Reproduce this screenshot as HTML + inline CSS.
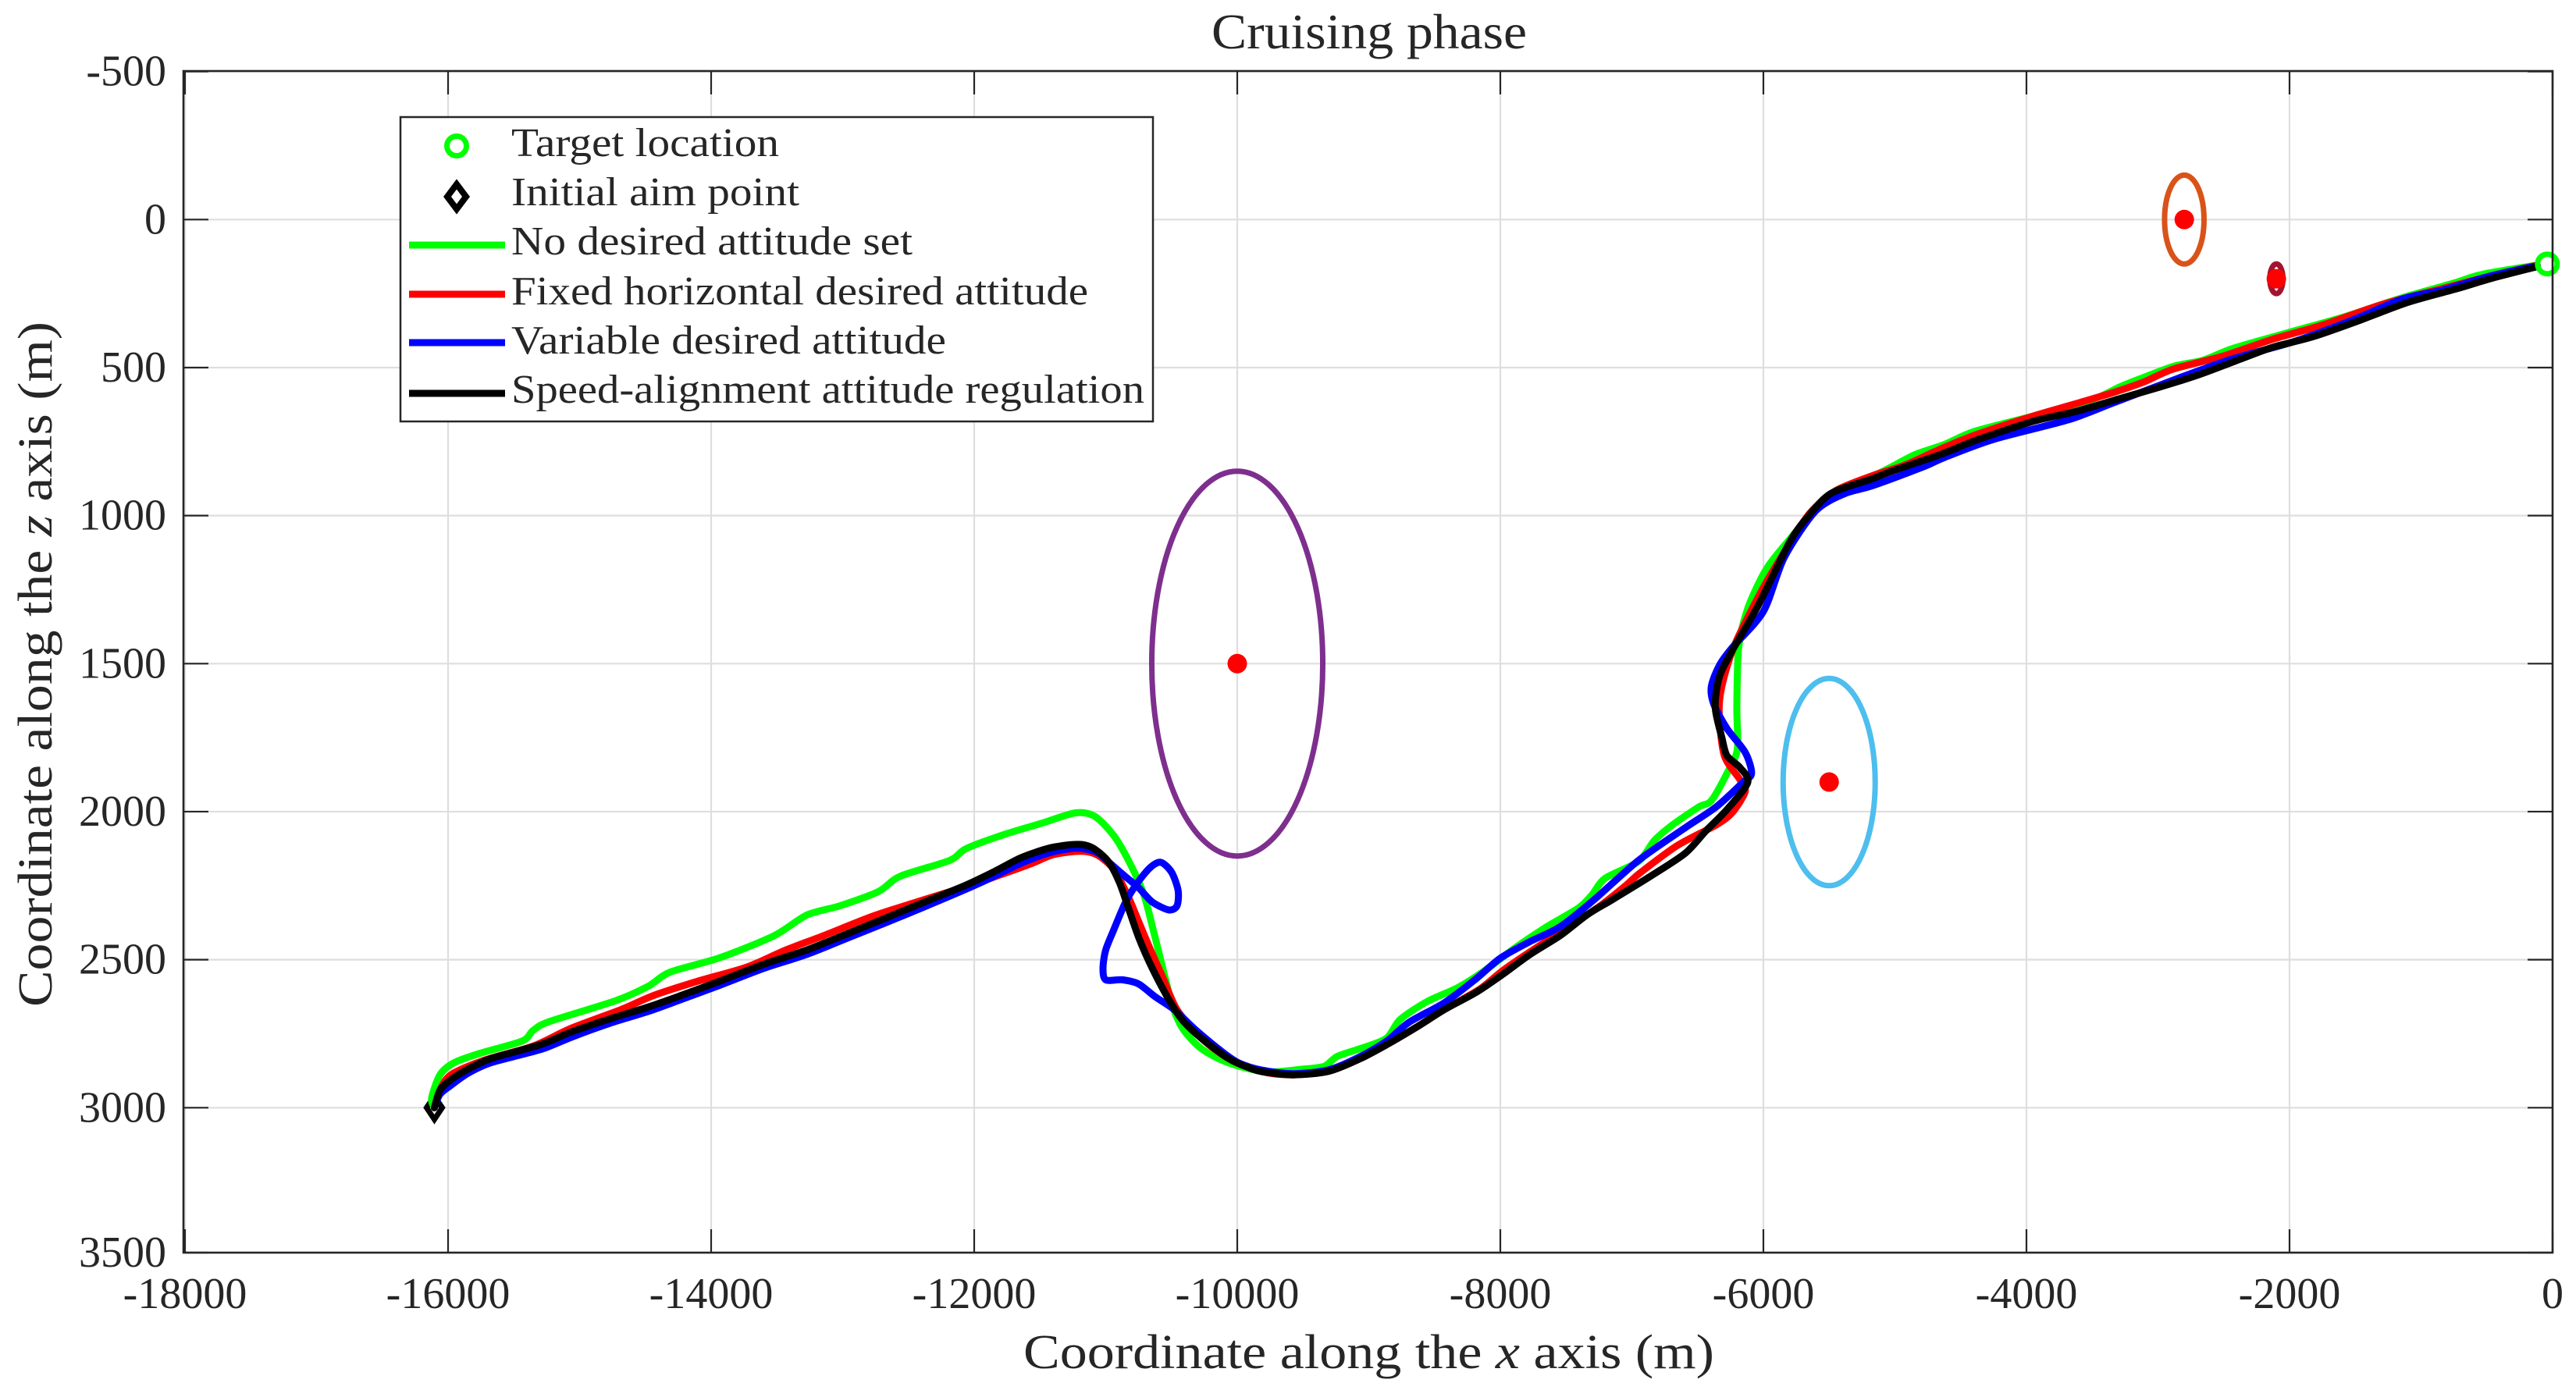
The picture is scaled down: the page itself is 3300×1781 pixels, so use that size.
<!DOCTYPE html>
<html lang="en">
<head>
<meta charset="utf-8">
<title>Cruising phase</title>
<style>
html,body{margin:0;padding:0;background:#fff;width:3300px;height:1781px;overflow:hidden}
svg{display:block}
text{font-family:"Liberation Serif","DejaVu Serif",serif;fill:#262626}
</style>
</head>
<body>
<svg id="chart" xmlns="http://www.w3.org/2000/svg" width="3300" height="1781" viewBox="0 0 3300 1781">
  <rect x="0" y="0" width="3300" height="1781" fill="#fff"/>
  <g id="grid"></g>
  <g id="threats"></g>
  <g id="series"></g>
  <g id="frame"></g>
  <g id="xticks"></g>
  <g id="yticks"></g>

  <text x="1552" y="62" font-size="64" textLength="404" lengthAdjust="spacingAndGlyphs">Cruising phase</text>
  <text x="1311" y="1753" font-size="62" textLength="885" lengthAdjust="spacingAndGlyphs">Coordinate along the <tspan font-style="italic">x</tspan> axis (m)</text>
  <text transform="translate(66,1290) rotate(-90)" x="0" y="0" font-size="62" textLength="878" lengthAdjust="spacingAndGlyphs">Coordinate along the <tspan font-style="italic">z</tspan> axis (m)</text>

  <g>
    <rect x="513" y="150" width="964" height="390" fill="#fff" stroke="#262626" stroke-width="2.5"/>
    <g>
      <circle cx="585" cy="187" r="12.5" fill="none" stroke="#00ff00" stroke-width="7"/>
      <text x="655" y="200" font-size="52" textLength="343" lengthAdjust="spacingAndGlyphs">Target location</text>
    </g>
    <g>
      <path d="M585 236 L597 252 L585 268 L573 252 Z" fill="none" stroke="#000" stroke-width="8"/>
      <text x="655" y="263" font-size="52" textLength="369" lengthAdjust="spacingAndGlyphs">Initial aim point</text>
    </g>
    <g>
      <line x1="524" x2="647" y1="314" y2="314" stroke="#00ff00" stroke-width="9"/>
      <text x="655" y="326" font-size="52" textLength="514" lengthAdjust="spacingAndGlyphs">No desired attitude set</text>
    </g>
    <g>
      <line x1="524" x2="647" y1="377" y2="377" stroke="#ff0000" stroke-width="9"/>
      <text x="655" y="390" font-size="52" textLength="739" lengthAdjust="spacingAndGlyphs">Fixed horizontal desired attitude</text>
    </g>
    <g>
      <line x1="524" x2="647" y1="439" y2="439" stroke="#0000ff" stroke-width="9"/>
      <text x="655" y="453" font-size="52" textLength="557" lengthAdjust="spacingAndGlyphs">Variable desired attitude</text>
    </g>
    <g>
      <line x1="524" x2="647" y1="504" y2="504" stroke="#000" stroke-width="9"/>
      <text x="655" y="516" font-size="52" textLength="811" lengthAdjust="spacingAndGlyphs">Speed-alignment attitude regulation</text>
    </g>
  </g>
</svg>
<script>
const xTicks = [-18000,-16000,-14000,-12000,-10000,-8000,-6000,-4000,-2000,0];
const zTicks = [-500,0,500,1000,1500,2000,2500,3000,3500];

const threatX = [-10000,-5500,-2800,-2100];
const threatZ = [1500,1900,0,200];
const threatRadius = [650,350,150,50];

const targetX = [-40];
const targetZ = [150];
const aimX = [-16104];
const aimZ = [3000];

const greenX = [-16104,-16125,-16062,-15958,-15771,-15437,-15354,-15229,-14729,-14479,-14312,-13937,-13521,-13271,-13021,-12729,-12562,-12187,-12062,-11771,-11479,-11229,-11083,-10937,-10812,-10708,-10625,-10500,-10417,-10271,-10062,-9780,-9508,-9339,-9237,-9034,-8864,-8763,-8559,-8322,-8119,-7881,-7644,-7407,-7305,-7203,-6949,-6830,-6695,-6491,-6396,-6277,-6198,-6202,-6188,-6119,-5980,-5802,-5644,-5446,-5117,-4852,-4625,-4398,-3943,-3489,-3299,-3148,-2883,-2655,-2428,-2011,-1595,-1140,-761,-534,-117];
const greenZ = [3000,2968,2889,2849,2818,2775,2739,2709,2639,2590,2542,2494,2419,2349,2318,2270,2218,2165,2125,2077,2038,2004,2016,2082,2178,2283,2424,2643,2731,2801,2849,2879,2870,2860,2826,2796,2765,2703,2642,2594,2537,2458,2388,2326,2282,2225,2168,2098,2046,1984,1963,1871,1790,1648,1446,1314,1182,1081,1000,915,856,795,760,716,663,606,567,540,496,475,435,382,330,264,216,185,154];

const redX = [-16104,-16062,-15979,-15729,-15354,-15062,-14687,-14437,-14104,-13729,-13437,-13146,-12771,-12437,-12062,-11812,-11562,-11396,-11187,-11062,-10937,-10833,-10750,-10667,-10562,-10458,-10271,-10062,-9814,-9576,-9305,-9068,-8864,-8627,-8424,-8152,-7983,-7780,-7508,-7246,-7048,-6932,-6653,-6356,-6237,-6138,-6178,-6297,-6336,-6316,-6218,-6000,-5782,-5644,-5446,-5169,-4928,-4663,-4398,-3943,-3640,-3337,-3110,-2883,-2504,-2125,-1746,-1292,-837,-458,-117];
const redZ = [3000,2941,2889,2840,2792,2731,2669,2621,2573,2525,2468,2419,2353,2305,2253,2215,2175,2145,2134,2147,2196,2283,2371,2459,2564,2669,2766,2835,2878,2889,2877,2835,2787,2725,2668,2598,2537,2475,2397,2320,2250,2205,2114,2044,2003,1932,1892,1811,1669,1577,1436,1243,1081,990,915,865,830,777,729,663,624,584,549,505,461,404,356,286,233,189,154];

const blueX = [-16104,-16062,-15980,-15854,-15687,-15480,-15271,-15062,-14771,-14479,-14229,-13937,-13604,-13271,-12979,-12687,-12354,-12062,-11854,-11646,-11437,-11271,-11167,-11062,-10958,-10854,-10750,-10646,-10521,-10458,-10450,-10500,-10583,-10667,-10771,-10854,-10937,-11000,-11021,-11000,-10875,-10750,-10625,-10479,-10312,-10104,-9983,-9814,-9576,-9305,-9068,-8864,-8695,-8424,-8186,-8000,-7780,-7543,-7286,-6950,-6593,-6356,-6158,-6090,-6138,-6277,-6376,-6396,-6336,-6237,-6000,-5842,-5604,-5383,-5169,-4777,-4625,-4246,-3678,-3337,-2845,-2428,-1973,-1519,-1140,-837,-458,-117];
const blueZ = [3000,2955,2925,2885,2850,2825,2800,2762,2715,2675,2635,2587,2530,2482,2430,2378,2317,2262,2220,2175,2140,2125,2125,2139,2178,2218,2257,2305,2332,2318,2266,2204,2171,2191,2248,2310,2397,2467,2529,2568,2568,2582,2625,2669,2739,2815,2850,2873,2885,2872,2828,2775,2712,2645,2565,2495,2440,2388,2297,2165,2054,1983,1902,1871,1800,1719,1638,1578,1507,1446,1324,1142,985,926,899,834,804,742,676,619,536,470,413,339,268,238,189,156];

const blackX = [-16104,-16062,-15980,-15854,-15687,-15480,-15271,-15062,-14771,-14479,-14229,-13937,-13604,-13271,-12979,-12687,-12354,-12062,-11854,-11646,-11437,-11271,-11167,-11083,-10979,-10896,-10833,-10750,-10646,-10521,-10417,-10271,-10062,-9904,-9814,-9576,-9305,-9068,-8864,-8627,-8424,-8186,-7983,-7780,-7543,-7339,-7147,-6851,-6593,-6435,-6277,-6119,-6178,-6277,-6316,-6366,-6336,-6237,-6040,-5802,-5664,-5486,-5169,-5004,-4663,-4360,-3943,-3640,-3299,-2996,-2693,-2352,-2125,-1822,-1481,-1102,-723,-458,-117];
const blackZ = [3000,2941,2906,2871,2836,2810,2783,2744,2700,2660,2621,2573,2516,2467,2415,2362,2301,2248,2204,2156,2124,2112,2112,2127,2169,2239,2318,2424,2529,2634,2704,2766,2835,2866,2878,2889,2877,2835,2787,2725,2668,2611,2550,2484,2418,2348,2297,2216,2140,2064,1993,1902,1851,1811,1750,1648,1547,1456,1304,1091,1005,925,875,847,795,742,681,650,606,567,525,468,431,396,343,280,233,198,159];

const NS = 'http://www.w3.org/2000/svg';
const plotLeft = 235, plotRight = 3270, plotTop = 91, plotBottom = 1605;
const pxPerX = 0.1685, pxPerZ = 0.37933, zeroZ = 281.3;

function xScale(v){ return Math.max(plotLeft, plotRight + v * pxPerX); }
function zScale(v){ return Math.min(plotBottom, zeroZ + v * pxPerZ); }
function make(parent, tag, attrs){
  const el = document.createElementNS(NS, tag);
  for (const k in attrs) el.setAttribute(k, attrs[k]);
  parent.appendChild(el);
  return el;
}
function smoothPath(xs, zs){
  const p = xs.map((x,i)=>[xScale(x), zScale(zs[i])]);
  let d = 'M' + p[0][0].toFixed(1) + ' ' + p[0][1].toFixed(1);
  const t = 0.14;
  for (let i=0;i<p.length-1;i++){
    const a = p[Math.max(0,i-1)], b = p[i], c = p[i+1], e = p[Math.min(p.length-1,i+2)];
    d += ' C' + (b[0]+(c[0]-a[0])*t).toFixed(1) + ' ' + (b[1]+(c[1]-a[1])*t).toFixed(1) + ' ' +
         (c[0]-(e[0]-b[0])*t).toFixed(1) + ' ' + (c[1]-(e[1]-b[1])*t).toFixed(1) + ' ' +
         c[0].toFixed(1) + ' ' + c[1].toFixed(1);
  }
  return d;
}

const gridG = document.getElementById('grid');
const frameG = document.getElementById('frame');
const xLabelG = document.getElementById('xticks');
const yLabelG = document.getElementById('yticks');
const threatG = document.getElementById('threats');
const seriesG = document.getElementById('series');

xTicks.forEach(function(v){
  const x = xScale(v);
  const g = make(gridG, 'line', {x1:x, x2:x, y1:plotTop, y2:plotBottom, stroke:'#dedede', 'stroke-width':2.2});
  
  
  const t1 = make(frameG, 'line', {x1:x, x2:x, y1:plotBottom, y2:plotBottom-30, stroke:'#262626', 'stroke-width':2.2});
  
  
  const t2 = make(frameG, 'line', {x1:x, x2:x, y1:plotTop, y2:plotTop+30, stroke:'#262626', 'stroke-width':2.2});
  
  
  const lab = make(xLabelG, 'text', {x:x, y:1676, 'font-size':56, 'text-anchor':'middle'});
  
  
  lab.textContent = String(v);
});
zTicks.forEach(function(v){
  const y = zScale(v);
  const g = make(gridG, 'line', {x1:plotLeft, x2:plotRight, y1:y, y2:y, stroke:'#dedede', 'stroke-width':2.2});
  
  
  const t1 = make(frameG, 'line', {x1:plotLeft, x2:plotLeft+32, y1:y, y2:y, stroke:'#262626', 'stroke-width':2.2});
  
  
  const t2 = make(frameG, 'line', {x1:plotRight, x2:plotRight-32, y1:y, y2:y, stroke:'#262626', 'stroke-width':2.2});
  
  
  const lab = make(yLabelG, 'text', {x:213, y:y+18, 'font-size':56, 'text-anchor':'end'});
  
  
  lab.textContent = String(v);
});
const box = make(frameG, 'rect', {x:plotLeft, y:plotTop, width:plotRight-plotLeft, height:plotBottom-plotTop, fill:'none', stroke:'#262626', 'stroke-width':2.6});



const threatColors = ['#7e2f8e','#4dbeee','#d95319','#a2142f'];
threatX.forEach(function(v,i){
  const cx = xScale(v), cy = zScale(threatZ[i]);
  const ring = make(threatG, 'ellipse', {cx:cx, cy:cy, rx:threatRadius[i]*pxPerX, ry:threatRadius[i]*pxPerZ, fill:'none', stroke:threatColors[i], 'stroke-width':7});
  
  
  const dot = make(threatG, 'circle', {cx:cx, cy:cy, r:12.5, fill:'#ff0000'});
  
  
});

const aimCx = xScale(aimX[0]), aimCy = zScale(aimZ[0]);
const aim = make(seriesG, 'path', {d:'M'+aimCx+' '+(aimCy-15)+' L'+(aimCx+10)+' '+aimCy+' L'+aimCx+' '+(aimCy+15)+' L'+(aimCx-10)+' '+aimCy+' Z', fill:'none', stroke:'#000', 'stroke-width':7});



const greenLine = make(seriesG, 'path', {d:smoothPath(greenX, greenZ), fill:'none', stroke:'#00ff00', 'stroke-width':9, 'stroke-linejoin':'round', 'stroke-linecap':'round'});


const redLine = make(seriesG, 'path', {d:smoothPath(redX, redZ), fill:'none', stroke:'#ff0000', 'stroke-width':9, 'stroke-linejoin':'round', 'stroke-linecap':'round'});


const blueLine = make(seriesG, 'path', {d:smoothPath(blueX, blueZ), fill:'none', stroke:'#0000ff', 'stroke-width':9, 'stroke-linejoin':'round', 'stroke-linecap':'round'});


const blackLine = make(seriesG, 'path', {d:smoothPath(blackX, blackZ), fill:'none', stroke:'#000000', 'stroke-width':9, 'stroke-linejoin':'round', 'stroke-linecap':'round'});



const target = make(seriesG, 'circle', {cx:xScale(targetX[0]), cy:zScale(targetZ[0]), r:12.5, fill:'none', stroke:'#00ff00', 'stroke-width':7});


</script>
</body>
</html>
